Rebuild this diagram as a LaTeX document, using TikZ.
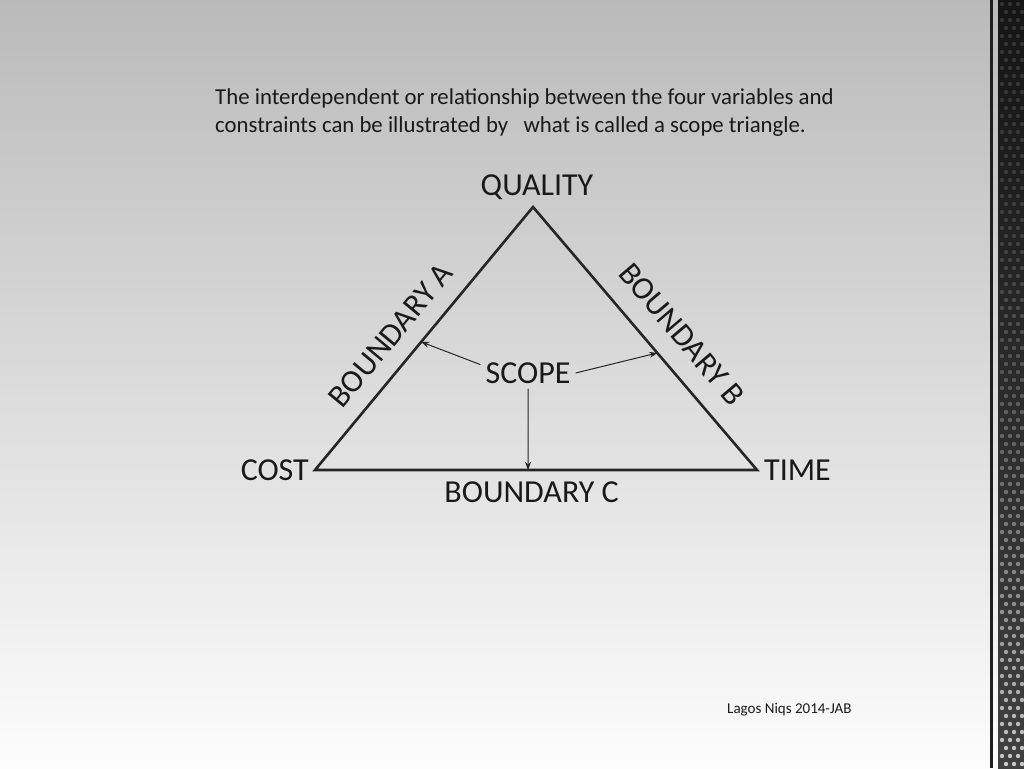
\documentclass[tikz,border=0pt]{standalone}
\usepackage{fontspec}
\setmainfont{Carlito}
\usetikzlibrary{positioning, calc, arrows.meta}

\tikzset{
  corner/.style={font=\fontsize{32}{32}\selectfont, text=black!90, inner sep=0pt},
  intro/.style={font=\fontsize{22.8}{28}\selectfont, text=black!90, anchor=base west, inner sep=0pt},
  edge/.style={line width=2.6pt, draw=black!85},
  ray/.style={line width=1pt, draw=black!85, -{Stealth[length=8pt,width=6pt]}},
}

\begin{document}
\begin{tikzpicture}[x=1pt, y=-1pt]
\useasboundingbox (0,0) rectangle (1024,768);
% backdrop and side strip
\shade[top color=black!27, bottom color=black!1] (0,0) rectangle (1024,768);
\fill[black!88] (990,0) rectangle (992.5,768);
\shade[top color=black!92, bottom color=black!75] (998,0) rectangle (1024,768);
\foreach \r in {0,...,96}{
  \pgfmathsetmacro{\lit}{20+60*(\r/96)^2}
  \pgfmathsetmacro{\off}{mod(\r,2)*4}
  \foreach \c in {0,1,2}
    \fill[white!\lit!black] (1002+\off+8*\c, 4+8*\r) circle (2.2pt);
}

\node[intro] (line1) at (215,104) {The interdependent or relationship between the four variables and};
\node[intro] (line2) at (215,132) {constraints can be illustrated by\ \ \ what is called a scope triangle.};

% scope triangle
\coordinate (Q) at (533,207);
\coordinate (C) at (315,470);
\coordinate (T) at (757,470);
\draw[edge] (C) -- (Q) -- (T) -- cycle;

\node[corner, above=7pt of Q, xshift=4pt] (quality) {QUALITY};
\node[corner, left=6pt of C] (cost) {COST};
\node[corner, right=7pt of T] (time) {TIME};
\node[corner, below=12pt of $(C)!0.49!(T)$] (boundc) {BOUNDARY C};
\path (C) -- (Q) node[corner, sloped, pos=0.445, above=17pt] (bounda) {BOUNDARY A};
\path (Q) -- (T) node[corner, sloped, pos=0.56, above=20pt] (boundb) {BOUNDARY B};

\node[corner, inner sep=5pt] (scope) at (528,373) {SCOPE};
\draw[ray] (scope.170) -- ($(C)!0.487!(Q)$);
\draw[ray] (scope.east) -- ($(T)!0.445!(Q)$);
\draw[ray] (scope.south) -- ($(C)!0.482!(T)$);

\node[intro, font=\fontsize{15}{17}\selectfont] (credit) at (727,713) {Lagos Niqs 2014-JAB};
\end{tikzpicture}
\end{document}
